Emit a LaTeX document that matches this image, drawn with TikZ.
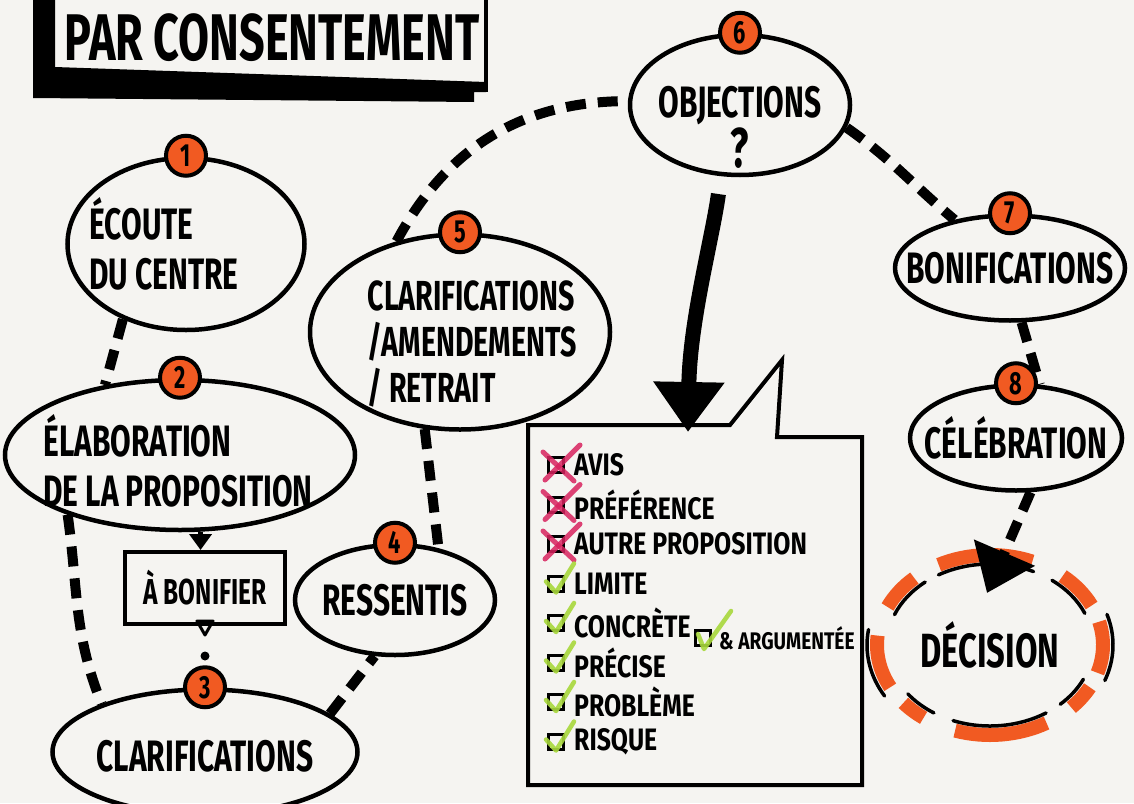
\documentclass[tikz,border=0pt]{standalone}
\usepackage{fontspec}
\setmainfont{Fira Sans}
\newfontfamily\handfont[FakeStretch=0.68]{Fira Sans}
\newfontfamily\listfont[FakeStretch=0.8]{Fira Sans}
\usetikzlibrary{shapes.geometric,positioning,arrows.meta,calc}

\definecolor{paper}{HTML}{F5F4F1}
\definecolor{badgeorange}{HTML}{F15A22}
\definecolor{crossred}{HTML}{D8235F}
\definecolor{checkgreen}{HTML}{A8D83C}

\tikzset{
  blob/.style={ellipse, draw, line width=4.5pt, inner sep=0pt},
  every label/.style={font=\handfont\bfseries\fontsize{44}{50}\selectfont, align=center},
  badge/.style={circle, draw, line width=4pt, fill=badgeorange, minimum size=40pt,
    inner sep=0pt, font=\handfont\bfseries\fontsize{32}{32}\selectfont},
  link/.style={line width=10pt, dash pattern=on 20pt off 12pt},
  bigarrow/.style={line width=15pt, -{Triangle[length=50pt, width=68pt]}},
  item/.style={font=\listfont\bfseries\fontsize{31}{31}\selectfont, inner sep=0pt, anchor=west},
  ckbox/.style={draw, line width=3pt, minimum size=15pt, inner sep=0pt},
  redcross/.style={crossred, line width=5pt, line cap=round, opacity=0.85},
  greentick/.style={checkgreen, line width=4.5pt, line cap=round, line join=round, opacity=0.9},
  decarc/.style={badgeorange, line width=14pt},
  decrim/.style={line width=3.5pt, line cap=round}
}

\begin{document}
\begin{tikzpicture}[x=1pt, y=1pt]
  \useasboundingbox (0,0) rectangle (1134,-803);
  \fill[paper] (0,0) rectangle (1134,-803);

  % title box, cut at the top
  \fill (33,0) -- (55,0) -- (55,-67) -- (486,-82) -- (486,-92) -- (474,-92)
    -- (474,-102) -- (33,-98) -- cycle;
  \draw[line width=4pt] (486,0) -- (486,-92);
  \node[font=\handfont\bfseries\fontsize{66}{66}\selectfont] (title) at (272,-38) {PAR CONSENTEMENT};

  % steps
  \node[blob, minimum width=237pt, minimum height=172pt,
    label={[align=left, xshift=-22pt]center:{ÉCOUTE\\DU CENTRE}}] (e1) at (186,-244) {};
  \node[blob, minimum width=350pt, minimum height=150pt,
    label={[align=left, xshift=-2pt, yshift=-6pt]center:{ÉLABORATION\\DE LA PROPOSITION}}] (e2) at (180,-455) {};
  \node[blob, minimum width=305pt, minimum height=125pt,
    label={[yshift=-4pt]center:{CLARIFICATIONS}}] (e3) at (205,-752) {};
  \node[blob, minimum width=200pt, minimum height=110pt,
    label=center:{RESSENTIS}] (e4) at (395,-600) {};
  \node[blob, minimum width=300pt, minimum height=195pt,
    label={[font=\handfont\bfseries\fontsize{42}{46}\selectfont, align=left, xshift=12pt, yshift=-12pt]center:{CLARIFICATIONS\\/AMENDEMENTS\\/ RETRAIT}}] (e5) at (460,-332) {};
  \node[blob, minimum width=220pt, minimum height=140pt,
    label={[yshift=-22pt]center:{OBJECTIONS\\{\fontsize{56}{56}\selectfont ?}}}] (e6) at (740,-105) {};
  \node[blob, minimum width=230pt, minimum height=105pt,
    label=center:{BONIFICATIONS}] (e7) at (1010,-268) {};
  \node[blob, minimum width=212pt, minimum height=105pt,
    label=center:{CÉLÉBRATION}] (e8) at (1016,-438) {};

  \node[badge] (b1) at (e1.north) {1};
  \node[badge] (b2) at (e2.north) {2};
  \node[badge] (b3) at (e3.north) {3};
  \node[badge] (b4) at (e4.north) {4};
  \node[badge] (b5) at (e5.north) {5};
  \node[badge] (b6) at (e6.north) {6};
  \node[badge] (b7) at (e7.north) {7};
  \node[badge] (b8) at (e8.north) {8};

  % a bonifier
  \node[draw, line width=4pt, minimum width=160pt, minimum height=72pt,
    font=\handfont\bfseries\fontsize{36}{36}\selectfont] (abox) at (205,-588) {À BONIFIER};
  \draw[line width=5pt, -{Triangle[length=16pt, width=22pt]}] (e2.285) -- (e2.285 |- abox.north);
  \draw[line width=3pt, line join=round] ($(abox.south)+(-8,5)$) -- ++(16,0) -- ++(-8,-14) -- cycle;
  \fill ($(abox.south)+(0,-30)$) circle (4.5pt);

  % decision
  \node[ellipse, minimum width=226pt, minimum height=180pt, inner sep=0pt,
    font=\handfont\bfseries\fontsize{48}{48}\selectfont] (dec) at (990,-645) {DÉCISION};
  \draw[decarc] ($(dec.center)+(132:113pt and 90pt)$) arc[start angle=132, end angle=155, x radius=113pt, y radius=90pt];
  \draw[decarc] ($(dec.center)+(68:113pt and 90pt)$) arc[start angle=68, end angle=117, x radius=113pt, y radius=90pt];
  \draw[decarc] ($(dec.center)+(26:113pt and 90pt)$) arc[start angle=26, end angle=50, x radius=113pt, y radius=90pt];
  \draw[decarc] ($(dec.center)+(-18:113pt and 90pt)$) arc[start angle=-18, end angle=15, x radius=113pt, y radius=90pt];
  \draw[decarc] ($(dec.center)+(-44:113pt and 90pt)$) arc[start angle=-44, end angle=-28, x radius=113pt, y radius=90pt];
  \draw[decarc] ($(dec.center)+(-108:113pt and 90pt)$) arc[start angle=-108, end angle=-60, x radius=113pt, y radius=90pt];
  \draw[decarc] ($(dec.center)+(-140:113pt and 90pt)$) arc[start angle=-140, end angle=-126, x radius=113pt, y radius=90pt];
  \draw[decarc] ($(dec.center)+(174:113pt and 90pt)$) arc[start angle=174, end angle=208, x radius=113pt, y radius=90pt];
  \draw[decrim] ($(dec.center)+(129:103pt and 81pt)$) arc[start angle=129, end angle=158, x radius=103pt, y radius=81pt];
  \draw[decrim] ($(dec.center)+(65:103pt and 81pt)$) arc[start angle=65, end angle=120, x radius=103pt, y radius=81pt];
  \draw[decrim] ($(dec.center)+(23:103pt and 81pt)$) arc[start angle=23, end angle=53, x radius=103pt, y radius=81pt];
  \draw[decrim] ($(dec.center)+(-21:123pt and 99pt)$) arc[start angle=-21, end angle=18, x radius=123pt, y radius=99pt];
  \draw[decrim] ($(dec.center)+(-47:103pt and 81pt)$) arc[start angle=-47, end angle=-25, x radius=103pt, y radius=81pt];
  \draw[decrim] ($(dec.center)+(-111:103pt and 81pt)$) arc[start angle=-111, end angle=-57, x radius=103pt, y radius=81pt];
  \draw[decrim] ($(dec.center)+(-143:103pt and 81pt)$) arc[start angle=-143, end angle=-123, x radius=103pt, y radius=81pt];
  \draw[decrim] ($(dec.center)+(171:123pt and 99pt)$) arc[start angle=171, end angle=211, x radius=123pt, y radius=99pt];

  % connectors
  \coordinate (dectip) at (987,-593);
  \coordinate (listtop) at (688,-432);
  \draw[link] (e1.230) -- (e2.137);
  \draw[link] (e2.208) to[out=-82, in=112] (e3.155);
  \draw[link] (e3.17) -- (e4.250);
  \draw[link] (e5.250) -- (e4.50);
  \draw[link] (e5.125) to[out=62, in=180] (e6.178);
  \draw[link] (e6.-12) to[out=-35, in=140] (e7.139);
  \draw[link] (e7.282) -- (e8.66);
  \draw[link, -{Triangle[length=44pt, width=64pt]}] (e8.285) -- (dectip);
  \draw[bigarrow, shorten <=18pt] (e6.255) .. controls (712,-240) and (690,-320) .. (listtop);

  % checklist bubble
  \draw[line width=4pt, line join=miter] (528,-425) -- (730,-425) -- (782,-360) -- (777,-437)
    -- (862,-437) -- (862,-785) -- (528,-785) -- cycle;
  \node[item] (i1) at (574,-465) {AVIS};
  \node[item, below=39.5pt of i1.west, anchor=west] (i2) {PRÉFÉRENCE};
  \node[item, below=39.5pt of i2.west, anchor=west] (i3) {AUTRE PROPOSITION};
  \node[item, below=39.5pt of i3.west, anchor=west] (i4) {LIMITE};
  \node[item, below=39.5pt of i4.west, anchor=west] (i5) {CONCRÈTE};
  \node[item, below=39.5pt of i5.west, anchor=west] (i6) {PRÉCISE};
  \node[item, below=39.5pt of i6.west, anchor=west] (i7) {PROBLÈME};
  \node[item, below=39.5pt of i7.west, anchor=west] (i8) {RISQUE};
  \node[item, font=\listfont\bfseries\fontsize{24}{24}\selectfont] (i9) at (719,-638) {\&~ARGUMENTÉE};
  \node[ckbox, left=9pt of i1] (k1) {};
  \node[ckbox, left=9pt of i2] (k2) {};
  \node[ckbox, left=9pt of i3] (k3) {};
  \node[ckbox, left=9pt of i4] (k4) {};
  \node[ckbox, left=9pt of i5] (k5) {};
  \node[ckbox, left=9pt of i6] (k6) {};
  \node[ckbox, left=9pt of i7] (k7) {};
  \node[ckbox, left=9pt of i8] (k8) {};
  \node[ckbox, left=7pt of i9] (k9) {};
  \draw[redcross] ($(k1)+(-13,13)$) -- ($(k1)+(18,-16)$);
  \draw[redcross] ($(k1)+(-11,-15)$) -- ($(k1)+(24,20)$);
  \draw[redcross] ($(k2)+(-13,13)$) -- ($(k2)+(18,-16)$);
  \draw[redcross] ($(k2)+(-11,-15)$) -- ($(k2)+(24,20)$);
  \draw[redcross] ($(k3)+(-13,13)$) -- ($(k3)+(18,-16)$);
  \draw[redcross] ($(k3)+(-11,-15)$) -- ($(k3)+(24,20)$);
  \draw[greentick] ($(k4)+(-10,2)$) -- ($(k4)+(0,-9)$) -- ($(k4)+(18,20)$);
  \draw[greentick] ($(k5)+(-10,2)$) -- ($(k5)+(0,-9)$) -- ($(k5)+(18,20)$);
  \draw[greentick] ($(k6)+(-10,2)$) -- ($(k6)+(0,-9)$) -- ($(k6)+(18,20)$);
  \draw[greentick] ($(k7)+(-10,2)$) -- ($(k7)+(0,-9)$) -- ($(k7)+(18,20)$);
  \draw[greentick] ($(k8)+(-10,2)$) -- ($(k8)+(0,-9)$) -- ($(k8)+(18,20)$);
  \draw[greentick] ($(k9)+(-5,4)$) -- ($(k9)+(1,-11)$) -- ($(k9)+(28,27)$);
\end{tikzpicture}
\end{document}
